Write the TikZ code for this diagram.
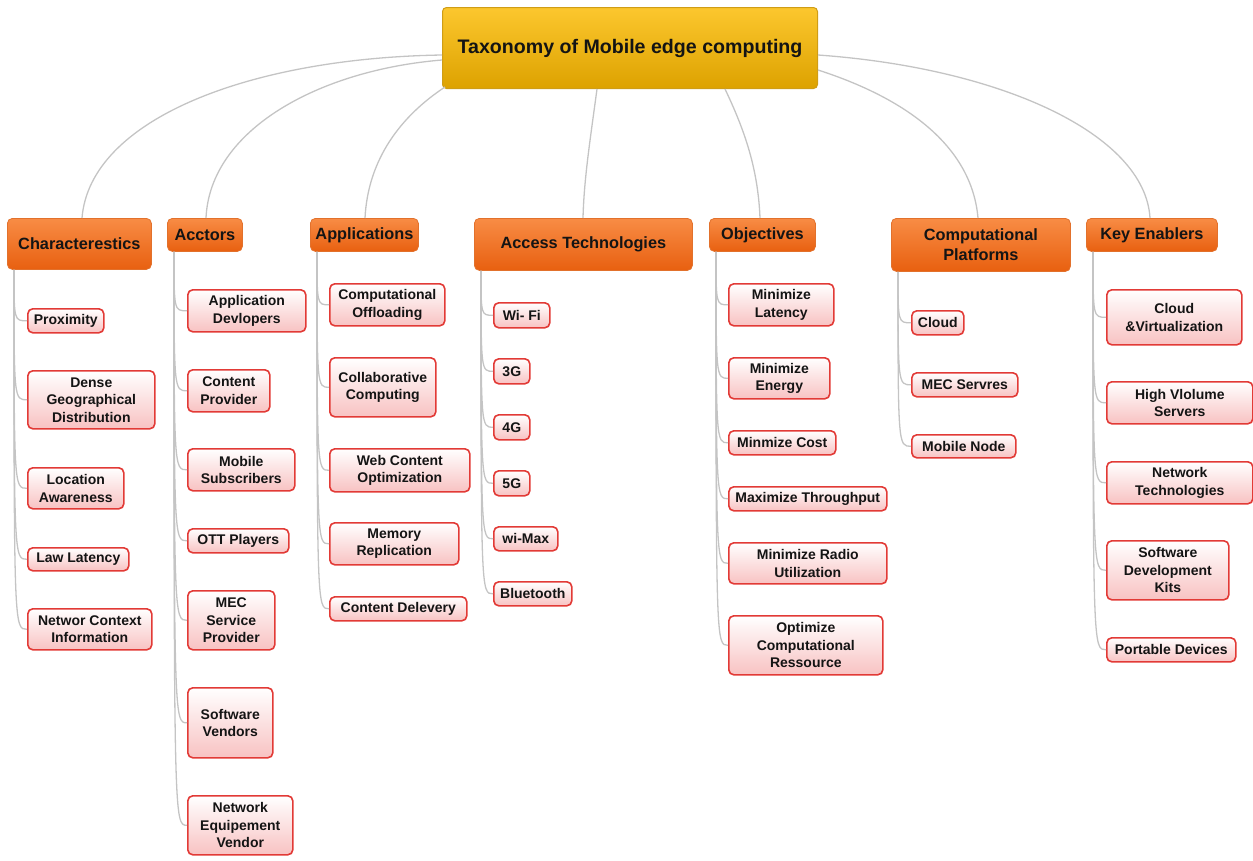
\documentclass[tikz,border=0pt]{standalone}
\usepackage{fontspec}
\setmainfont{Liberation Sans}
\usetikzlibrary{calc}

\definecolor{linkgray}{HTML}{C4C4C4}
\definecolor{rootTop}{HTML}{FCC72E}
\definecolor{rootBot}{HTML}{DDA200}
\definecolor{rootEdge}{HTML}{CF9D16}
\definecolor{catTop}{HTML}{F88C45}
\definecolor{catBot}{HTML}{E86010}
\definecolor{catEdge}{HTML}{E2712C}
\definecolor{leafTop}{HTML}{FFFFFF}
\definecolor{leafBot}{HTML}{F8C2C2}
\definecolor{leafEdge}{HTML}{E23A36}

\tikzset{
  box/.style={anchor=north west, inner sep=0pt, align=center, text=black!92},
  dim/.style 2 args={minimum width=#1, minimum height=#2},
  rootbox/.style={box, rounded corners=4pt, draw=rootEdge, line width=1pt,
    top color=rootTop, bottom color=rootBot, font=\bfseries\fontsize{19.6}{23}\selectfont},
  catbox/.style={box, rounded corners=5pt, draw=catEdge, line width=0.8pt,
    top color=catTop, bottom color=catBot, font=\bfseries\fontsize{16.3}{20}\selectfont},
  leafbox/.style={box, rounded corners=5pt, draw=leafEdge, line width=1.6pt,
    top color=leafTop, bottom color=leafBot, font=\bfseries\fontsize{14}{17.5}\selectfont},
  link/.style={draw=linkgray, line width=1.3pt},
}

% trunk from a category corner into one of its items
\newcommand\leafline[2]{\draw[link] (#1) .. controls (#1 |- #2.west) .. (#2.west);}

\begin{document}
\begin{tikzpicture}[x=1pt, y=-1pt]
\useasboundingbox (0,0) rectangle (1253,860);

% root
\node[rootbox, dim={375}{81}] (root) at (442,7) {Taxonomy of Mobile edge computing};

% categories
\node[catbox, dim={144}{51}] (cat1) at (7,218)    {Characterestics};
\node[catbox, dim={75}{33}]  (cat2) at (167,218)  {Acctors};
\node[catbox, dim={108}{33}] (cat3) at (310,218)  {Applications};
\node[catbox, dim={218}{52}] (cat4) at (474,218)  {Access Technologies};
\node[catbox, dim={106}{33}] (cat5) at (709,218)  {Objectives};
\node[catbox, dim={179}{53}] (cat6) at (891,218)  {Computational\\Platforms};
\node[catbox, dim={131}{33}] (cat7) at (1086,218) {Key Enablers};

% characteristics
\node[leafbox, dim={76}{24}]  (c1) at (27,308) {Proximity};
\node[leafbox, dim={127}{58}] (c2) at (27,370) {Dense\\Geographical\\Distribution};
\node[leafbox, dim={96}{41}]  (c3) at (27,467) {Location\\Awareness};
\node[leafbox, dim={101}{23}] (c4) at (27,547) {Law Latency};
\node[leafbox, dim={124}{41}] (c5) at (27,608) {Networ Context\\Information};

% actors
\node[leafbox, dim={118}{42}] (a1) at (187,289) {Application\\Devlopers};
\node[leafbox, dim={82}{42}]  (a2) at (187,369) {Content\\Provider};
\node[leafbox, dim={107}{42}] (a3) at (187,448) {Mobile\\Subscribers};
\node[leafbox, dim={101}{24}] (a4) at (187,528) {OTT Players};
\node[leafbox, dim={87}{59}]  (a5) at (187,590) {MEC\\Service\\Provider};
\node[leafbox, dim={85}{70}]  (a6) at (187,687) {Software\\Vendors};
\node[leafbox, dim={105}{59}] (a7) at (187,795) {Network\\Equipement\\Vendor};

% applications
\node[leafbox, dim={115}{42}] (p1) at (329,283) {Computational\\Offloading};
\node[leafbox, dim={106}{59}] (p2) at (329,357) {Collaborative\\Computing};
\node[leafbox, dim={140}{43}] (p3) at (329,448) {Web Content\\Optimization};
\node[leafbox, dim={129}{42}] (p4) at (329,522) {Memory\\Replication};
\node[leafbox, dim={137}{24}] (p5) at (329,596) {Content Delevery};

% access technologies
\node[leafbox, dim={56}{25}] (t1) at (493,302) {Wi- Fi};
\node[leafbox, dim={36}{25}] (t2) at (493,358) {3G};
\node[leafbox, dim={36}{25}] (t3) at (493,414) {4G};
\node[leafbox, dim={36}{25}] (t4) at (493,470) {5G};
\node[leafbox, dim={64}{24}] (t5) at (493,526) {wi-Max};
\node[leafbox, dim={78}{24}] (t6) at (493,581) {Bluetooth};

% objectives
\node[leafbox, dim={105}{42}] (o1) at (728,283) {Minimize\\Latency};
\node[leafbox, dim={101}{41}] (o2) at (728,357) {Minimize\\Energy};
\node[leafbox, dim={107}{24}] (o3) at (728,430) {Minmize Cost};
\node[leafbox, dim={158}{24}] (o4) at (728,486) {Maximize Throughput};
\node[leafbox, dim={158}{41}] (o5) at (728,542) {Minimize Radio\\Utilization};
\node[leafbox, dim={154}{59}] (o6) at (728,615) {Optimize\\Computational\\Ressource};

% computational platforms
\node[leafbox, dim={52}{24}]  (m1) at (911,310) {Cloud};
\node[leafbox, dim={106}{24}] (m2) at (911,372) {MEC Servres};
\node[leafbox, dim={104}{23}] (m3) at (911,434) {Mobile Node};

% key enablers
\node[leafbox, dim={135}{55}] (k1) at (1106,289) {Cloud\\\&Virtualization};
\node[leafbox, dim={146}{42}] (k2) at (1106,381) {High Vlolume\\Servers};
\node[leafbox, dim={146}{42}] (k3) at (1106,461) {Network\\Technologies};
\node[leafbox, dim={122}{59}] (k4) at (1106,540) {Software\\Development\\Kits};
\node[leafbox, dim={129}{24}] (k5) at (1106,637) {Portable Devices};

% root to categories
\draw[link] ($(root.north west)+(0,48)$) .. controls +(-192,3) and +(8,-99) .. ($(cat1.north west)+(75,0)$);
\draw[link] ($(root.north west)+(0,53)$) .. controls +(-122,10) and +(4,-89) .. ($(cat2.north west)+(39,0)$);
\draw[link] ($(root.south west)+(3,-2)$) .. controls +(-44,29) and +(3,-59) .. ($(cat3.north west)+(55,0)$);
\draw[link] ($(root.south west)+(155,0)$) .. controls +(-7,52) and +(1,-39) .. ($(cat4.north west)+(109,0)$);
\draw[link] ($(root.south west)+(283,0)$) .. controls +(20,42) and +(-2,-49) .. ($(cat5.north west)+(51,0)$);
\draw[link] ($(root.north east)+(0,63)$) .. controls +(93,30) and +(-6,-69) .. ($(cat6.north west)+(87,0)$);
\draw[link] ($(root.north east)+(0,48)$) .. controls +(183,13) and +(-5,-84) .. ($(cat7.north west)+(64,0)$);

% trunk start points under each category
\foreach \c in {cat1,cat2,cat3,cat4,cat5,cat6,cat7}
  \coordinate (\c s) at ($(\c.south west)+(7,0)$);

\foreach \l in {c1,c2,c3,c4,c5} {\leafline{cat1s}{\l}}
\foreach \l in {a1,a2,a3,a4,a5,a6,a7} {\leafline{cat2s}{\l}}
\foreach \l in {p1,p2,p3,p4,p5} {\leafline{cat3s}{\l}}
\foreach \l in {t1,t2,t3,t4,t5,t6} {\leafline{cat4s}{\l}}
\foreach \l in {o1,o2,o3,o4,o5,o6} {\leafline{cat5s}{\l}}
\foreach \l in {m1,m2,m3} {\leafline{cat6s}{\l}}
\foreach \l in {k1,k2,k3,k4,k5} {\leafline{cat7s}{\l}}
\end{tikzpicture}
\end{document}
